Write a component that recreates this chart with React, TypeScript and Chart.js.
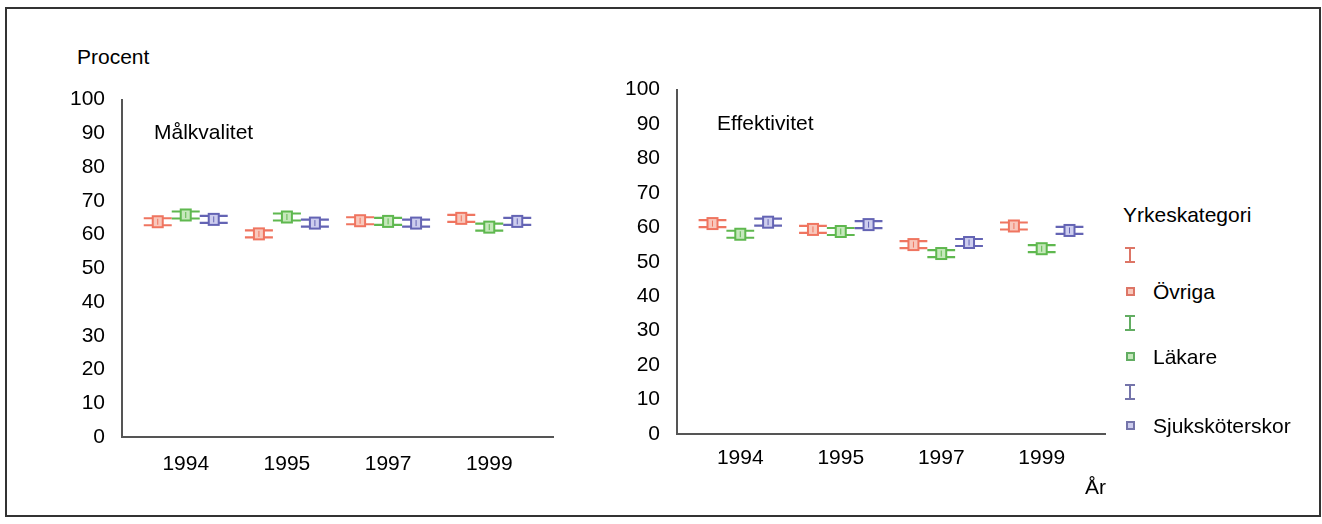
import React, { useEffect, useRef } from 'react';
import { Chart, registerables } from 'chart.js';

Chart.register(...registerables);

const years = ['1994', '1995', '1997', '1999'];
const seriesNames = ['Övriga', 'Läkare', 'Sjuksköterskor'];
const seriesColors = ['#ef7560', '#5fb84f', '#6464b4'];
const seriesTints = ['#f8c8bc', '#c6e8bc', '#cdcdee'];
const legendColors = ['#dd7566', '#62ad62', '#7474aa'];

const malkvalitetOvriga = [63.8, 60.2, 64.1, 64.8];
const malkvalitetLakare = [65.8, 65.2, 63.9, 62.2];
const malkvalitetSjuk = [64.5, 63.4, 63.4, 63.9];

const effektivitetOvriga = [61.1, 59.4, 55.0, 60.4];
const effektivitetLakare = [58.0, 58.8, 52.4, 53.8];
const effektivitetSjuk = [61.5, 60.8, 55.6, 59.1];

const TEXT_FONT = "'Liberation Sans', Arial, sans-serif";
const TICK_FONT = "'Liberation Sans Narrow', 'Liberation Sans', Arial, sans-serif";

const glyphPlugin = {
  id: 'glyphs',
  afterDatasetsDraw(chart: any) {
    const ctx = chart.ctx;
    chart.data.datasets.forEach((ds: any, i: number) => {
      const meta = chart.getDatasetMeta(i);
      const color = ds.glyphColor;
      const tint = ds.glyphTint;
      meta.data.forEach((el: any) => {
        const { x, y, width } = el.getProps(['x', 'y', 'width'], true);
        const w = width;
        ctx.save();
        ctx.strokeStyle = color;
        ctx.lineWidth = 2.2;
        ctx.beginPath();
        ctx.moveTo(x - w / 2, y - 3.5);
        ctx.lineTo(x + w / 2, y - 3.5);
        ctx.moveTo(x - w / 2, y + 3.5);
        ctx.lineTo(x + w / 2, y + 3.5);
        ctx.stroke();
        ctx.fillStyle = tint;
        ctx.fillRect(x - 5, y - 5.5, 10, 11);
        ctx.lineWidth = 2;
        ctx.strokeRect(x - 5, y - 5.5, 10, 11);
        ctx.lineWidth = 1;
        ctx.beginPath();
        ctx.moveTo(x, y - 3);
        ctx.lineTo(x, y + 3);
        ctx.stroke();
        ctx.restore();
      });
    });
  },
};

type ChartSpec = {
  values: number[][];
  width: number;
  height: number;
  yAxisWidth: number;
  xAxisHeight: number;
  padTop: number;
  padRight: number;
  xLabelPad: number;
};

function buildConfig(spec: ChartSpec): any {
  const datasets = spec.values.map((vals, si) => ({
    label: seriesNames[si],
    data: vals.map((v, i) => ({ x: i, y: v })),
    backgroundColor: 'rgba(0,0,0,0)',
    borderWidth: 0,
    glyphColor: seriesColors[si],
    glyphTint: seriesTints[si],
    barPercentage: 1,
    categoryPercentage: 0.83,
  }));
  return {
    type: 'bar',
    data: { datasets },
    plugins: [glyphPlugin],
    options: {
      responsive: false,
      animation: false,
      events: [],
      layout: { padding: { top: spec.padTop, right: spec.padRight, left: 0, bottom: 0 } },
      plugins: { legend: { display: false }, tooltip: { enabled: false }, title: { display: false } },
      scales: {
        x: {
          type: 'linear',
          min: -0.63,
          max: 3.63,
          offset: false,
          grid: { display: false, drawTicks: false, offset: false },
          border: { display: true, color: '#555', width: 2 },
          afterBuildTicks: (scale: any) => {
            scale.ticks = years.map((_, i) => ({ value: i }));
          },
          afterFit: (scale: any) => {
            scale.height = spec.xAxisHeight;
          },
          ticks: {
            padding: spec.xLabelPad,
            color: '#000',
            font: { family: TICK_FONT, size: 21 },
            maxRotation: 0,
            autoSkip: false,
            callback: (v: any) => years[v] ?? '',
          },
        },
        y: {
          type: 'linear',
          min: 0,
          max: 100,
          grid: { display: false, drawTicks: false },
          border: { display: true, color: '#555', width: 2 },
          afterFit: (scale: any) => {
            scale.width = spec.yAxisWidth;
          },
          ticks: {
            stepSize: 10,
            padding: 17,
            color: '#000',
            font: { family: TICK_FONT, size: 21 },
          },
        },
      },
    },
  };
}

function PlotCanvas({ spec, left, top }: { spec: ChartSpec; left: number; top: number }) {
  const ref = useRef<HTMLCanvasElement | null>(null);
  useEffect(() => {
    if (!ref.current) return;
    const chart = new Chart(ref.current, buildConfig(spec));
    return () => chart.destroy();
  }, []);
  return (
    <canvas
      ref={ref}
      width={spec.width}
      height={spec.height}
      style={{ position: 'absolute', left, top, width: spec.width, height: spec.height }}
    />
  );
}

const textStyle = (left: number, top: number): React.CSSProperties => ({
  position: 'absolute',
  left,
  top,
  fontFamily: TEXT_FONT,
  fontSize: 21,
  lineHeight: '24px',
  color: '#000',
  whiteSpace: 'nowrap',
});

function ErrorIcon({ color, left, top }: { color: string; left: number; top: number }) {
  return (
    <div style={{ position: 'absolute', left, top, width: 10, height: 16 }}>
      <div style={{ position: 'absolute', left: 0, top: 0, width: 10, height: 2, background: color }} />
      <div style={{ position: 'absolute', left: 4, top: 0, width: 2, height: 16, background: color }} />
      <div style={{ position: 'absolute', left: 0, top: 14, width: 10, height: 2, background: color }} />
    </div>
  );
}

function SquareIcon({ color, tint, left, top }: { color: string; tint: string; left: number; top: number }) {
  return (
    <div
      style={{
        position: 'absolute',
        left,
        top,
        width: 5,
        height: 5,
        border: `2px solid ${color}`,
        background: tint,
      }}
    />
  );
}

export default function App() {
  const leftSpec: ChartSpec = {
    values: [malkvalitetOvriga, malkvalitetLakare, malkvalitetSjuk],
    width: 530,
    height: 420,
    yAxisWidth: 82,
    xAxisHeight: 53,
    padTop: 22,
    padRight: 17,
    xLabelPad: 15,
  };
  const rightSpec: ChartSpec = {
    values: [effektivitetOvriga, effektivitetLakare, effektivitetSjuk],
    width: 520,
    height: 440,
    yAxisWidth: 77,
    xAxisHeight: 66,
    padTop: 29,
    padRight: 15,
    xLabelPad: 12,
  };
  const iconTops = [247, 315, 384];
  const squareTops = [287, 352, 421];
  return (
    <div style={{ position: 'absolute', left: 0, top: 0, width: 1322, height: 524, background: '#fff' }}>
      <div
        style={{
          position: 'absolute',
          left: 5,
          top: 7,
          width: 1312,
          height: 506,
          border: '2px solid #333',
        }}
      />
      <PlotCanvas spec={leftSpec} left={40} top={70} />
      <PlotCanvas spec={rightSpec} left={600} top={60} />
      <div style={textStyle(77, 45)}>Procent</div>
      <div style={textStyle(154, 120)}>Målkvalitet</div>
      <div style={textStyle(717, 111)}>Effektivitet</div>
      <div style={textStyle(1085, 475)}>År</div>
      <div style={textStyle(1123, 203)}>Yrkeskategori</div>
      {seriesNames.map((name, i) => (
        <React.Fragment key={name}>
          <ErrorIcon color={legendColors[i]} left={1125} top={iconTops[i]} />
          <SquareIcon color={legendColors[i]} tint={seriesTints[i]} left={1126} top={squareTops[i]} />
          <div style={textStyle(1153, squareTops[i] - 7)}>{name}</div>
        </React.Fragment>
      ))}
    </div>
  );
}
